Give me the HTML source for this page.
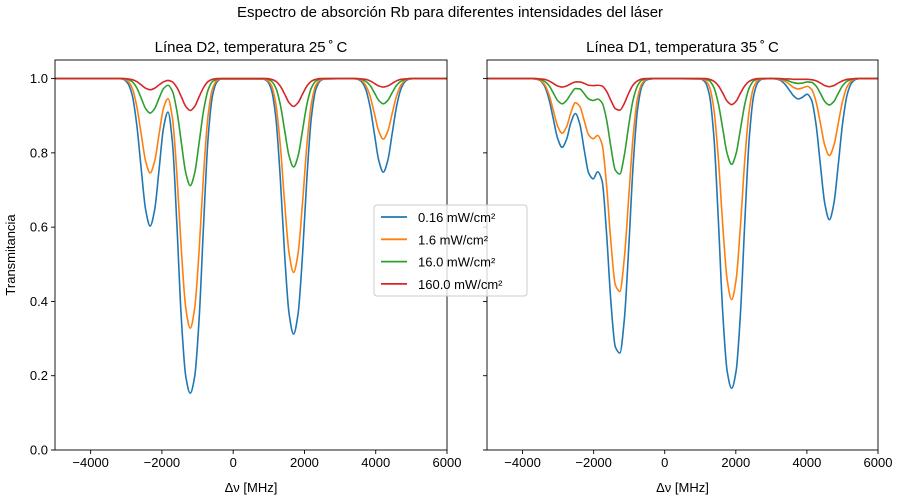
<!DOCTYPE html>
<html><head><meta charset="utf-8"><style>
body{margin:0;background:#fff;}
svg{display:block;font-family:"Liberation Sans","DejaVu Sans",sans-serif;}
</style></head><body>
<svg id="fig" width="900" height="500" viewBox="0 0 900 500">
<rect width="900" height="500" fill="#fff"/>
<text x="450" y="17" text-anchor="middle" font-size="15">Espectro de absorción Rb para diferentes intensidades del láser</text>
</svg>
<script>
const seriesLabels=["0.16 mW/cm²","1.6 mW/cm²","16.0 mW/cm²","160.0 mW/cm²"];
const colors=["#1f77b4","#ff7f0e","#2ca02c","#d62728"];
const xTicks=[-4000,-2000,0,2000,4000,6000];
const yTicks=[0.0,0.2,0.4,0.6,0.8,1.0];
const d2X=[-5000,
-3205,-3080,-2955,-2830,-2705,-2580,-2455,-2330,-2205,-2080,-1955,-1830,-1705,-1580,-1455,-1330,-1205,-1080,-955,-830,-705,-580,-455,-330,
820,945,1070,1195,1320,1445,1570,1695,1820,1945,2070,2195,2320,2445,2570,
3337,3462,3587,3712,3837,3962,4087,4212,4337,4462,4587,4712,4837,4962,5087,
6000];
const d2Blue=[1,
1.000,0.998,0.987,0.954,0.875,0.756,0.646,0.603,0.646,0.755,0.867,0.910,0.828,0.607,0.354,0.198,0.153,0.198,0.354,0.608,0.838,0.954,0.991,0.999,
0.999,0.994,0.971,0.896,0.735,0.524,0.366,0.312,0.366,0.524,0.735,0.896,0.971,0.994,0.999,
1,0.999,0.993,0.973,0.926,0.852,0.779,0.748,0.779,0.852,0.926,0.973,0.993,0.999,1,
1];
const d2Orange=[1,
1.000,0.999,0.993,0.973,0.925,0.850,0.777,0.746,0.777,0.850,0.920,0.946,0.894,0.743,0.539,0.382,0.328,0.382,0.539,0.744,0.900,0.973,0.995,0.999,
0.999,0.996,0.982,0.933,0.823,0.664,0.529,0.478,0.529,0.664,0.823,0.933,0.982,0.996,0.999,
1,0.999,0.996,0.983,0.954,0.906,0.858,0.837,0.858,0.906,0.954,0.983,0.996,0.999,1,
1];
const d2Green=[1,
1,1.000,0.998,0.991,0.975,0.947,0.919,0.907,0.919,0.947,0.973,0.982,0.966,0.913,0.828,0.746,0.712,0.746,0.828,0.914,0.969,0.992,0.998,1,
1,0.999,0.993,0.975,0.931,0.860,0.791,0.762,0.791,0.860,0.931,0.975,0.993,0.999,1,
1,1,0.998,0.993,0.982,0.962,0.941,0.932,0.941,0.962,0.982,0.993,0.998,1,1,
1];
const d2Red=[1,
1,1,0.999,0.997,0.992,0.983,0.974,0.970,0.974,0.983,0.991,0.995,0.991,0.976,0.951,0.925,0.914,0.925,0.951,0.976,0.992,0.998,1,1,
1,1,0.998,0.993,0.980,0.958,0.935,0.925,0.935,0.958,0.980,0.993,0.998,1,1,
1,1,0.999,0.998,0.994,0.987,0.980,0.977,0.980,0.987,0.994,0.998,0.999,1,1,
1];
const d1X=[-5000,
-3763,-3638,-3513,-3388,-3263,-3138,-3013,-2888,-2763,-2638,-2513,-2388,-2263,-2138,-2013,-1888,-1763,-1638,-1513,-1388,-1263,-1138,-1013,-888,-763,-638,-513,-388,-263,
1007,1132,1257,1382,1507,1632,1757,1882,2007,2132,2257,2382,2507,2632,2757,
3006,3131,3256,3381,3506,3631,3756,3881,4006,4131,4256,4381,4506,4631,4756,4881,5006,5131,5256,5381,5506,
6000];
const d1Blue=[1,
1.000,0.999,0.995,0.981,0.947,0.893,0.839,0.815,0.836,0.882,0.906,0.877,0.807,0.745,0.730,0.749,0.725,0.585,0.397,0.277,0.261,0.350,0.544,0.768,0.918,0.980,0.996,0.999,1,
0.999,0.991,0.956,0.845,0.622,0.370,0.212,0.166,0.212,0.370,0.622,0.845,0.956,0.991,0.999,
1.000,0.999,0.995,0.985,0.969,0.953,0.945,0.950,0.958,0.942,0.877,0.766,0.662,0.620,0.662,0.767,0.881,0.956,0.988,0.998,1,
1];
const d1Orange=[1,
1.000,0.999,0.996,0.985,0.959,0.916,0.872,0.853,0.870,0.909,0.935,0.925,0.886,0.848,0.838,0.847,0.823,0.715,0.558,0.444,0.427,0.515,0.680,0.846,0.948,0.987,0.998,1.000,1,
0.999,0.996,0.978,0.918,0.787,0.606,0.458,0.405,0.458,0.606,0.787,0.918,0.978,0.996,0.999,
1,0.999,0.997,0.993,0.985,0.976,0.972,0.975,0.979,0.971,0.938,0.879,0.819,0.793,0.819,0.879,0.940,0.978,0.994,0.999,1,
1];
const d1Green=[1,
1,1.000,0.998,0.993,0.982,0.962,0.941,0.932,0.941,0.959,0.973,0.972,0.959,0.945,0.941,0.945,0.935,0.890,0.815,0.753,0.743,0.793,0.874,0.943,0.981,0.996,0.999,1,1,
1,0.999,0.994,0.976,0.933,0.865,0.798,0.769,0.798,0.865,0.933,0.976,0.994,0.999,1,
1,1,0.999,0.997,0.993,0.989,0.987,0.988,0.991,0.990,0.980,0.960,0.938,0.929,0.938,0.960,0.981,0.993,0.998,1,1,
1];
const d1Red=[1,
1,1,0.999,0.998,0.994,0.987,0.980,0.977,0.980,0.986,0.991,0.991,0.987,0.982,0.981,0.982,0.980,0.966,0.941,0.919,0.915,0.933,0.961,0.983,0.994,0.999,1,1,1,
1,1,0.998,0.993,0.981,0.961,0.939,0.930,0.939,0.961,0.981,0.993,0.998,1,1,
1,1,1,0.999,0.999,0.998,0.998,0.998,0.998,0.997,0.994,0.988,0.981,0.978,0.981,0.988,0.994,0.998,0.999,1,1,
1];

const NS="http://www.w3.org/2000/svg";
const svg=document.getElementById('fig');
function el(tag,attrs,parent){const e=document.createElementNS(NS,tag);for(const k in attrs)e.setAttribute(k,attrs[k]);(parent||svg).appendChild(e);return e;}
const X0=-5000,X1=6000,Y0=0,Y1=1.05;
const T=60,B=450;
function sy(v){return B-(v-Y0)/(Y1-Y0)*(B-T);}
function monotone(xs,ys){
  const n=xs.length,d=[],m=[];
  for(let i=0;i<n-1;i++)d.push((ys[i+1]-ys[i])/(xs[i+1]-xs[i]));
  m[0]=d[0];m[n-1]=d[n-2];
  for(let i=1;i<n-1;i++){if(d[i-1]*d[i]<=0)m[i]=0;else{const w1=2*(xs[i+1]-xs[i])+(xs[i]-xs[i-1]),w2=(xs[i+1]-xs[i])+2*(xs[i]-xs[i-1]);m[i]=(w1+w2)/(w1/d[i-1]+w2/d[i]);}}
  return m;
}
function panel(L,R,title,xs,seriesArr,showY,name){
  const sx=v=>L+(v-X0)/(X1-X0)*(R-L);
  const g=el('g',{});
  
  
  const clip=el('clipPath',{id:'c'+name},g);el('rect',{x:L,y:T,width:R-L,height:B-T},clip);
  seriesArr.forEach((ys,si)=>{
    const m=monotone(xs,ys);let d='';
    for(let i=0;i<xs.length-1;i++){
      const h=xs[i+1]-xs[i];
      const p0=[sx(xs[i]),sy(ys[i])],p3=[sx(xs[i+1]),sy(ys[i+1])];
      const p1=[sx(xs[i]+h/3),sy(ys[i]+m[i]*h/3)],p2=[sx(xs[i+1]-h/3),sy(ys[i+1]-m[i+1]*h/3)];
      if(i===0)d+='M'+p0[0].toFixed(2)+','+p0[1].toFixed(2);
      d+='C'+p1.map(v=>v.toFixed(2))+' '+p2.map(v=>v.toFixed(2))+' '+p3.map(v=>v.toFixed(2));
    }
    const p=el('path',{d:d,fill:'none',stroke:colors[si],'stroke-width':1.6,'clip-path':'url(#c'+name+')'},g);
    
    
  });
  el('rect',{x:L,y:T,width:R-L,height:B-T,fill:'none',stroke:'#000','stroke-width':0.9},g);
  xTicks.forEach(t=>{const x=sx(t);el('line',{x1:x,x2:x,y1:B,y2:B+4,stroke:'#000','stroke-width':0.9},g);
    const tx=el('text',{x:x,y:B+17,'text-anchor':'middle','font-size':13},g);tx.textContent=(t<0?'\u2212'+(-t):t);
    
    });
  yTicks.forEach(t=>{const y=sy(t);el('line',{x1:L-4,x2:L,y1:y,y2:y,stroke:'#000','stroke-width':0.9},g);
    if(showY){const ty=el('text',{x:L-7,y:y+4.5,'text-anchor':'end','font-size':13},g);ty.textContent=t.toFixed(1);
    
    }});
  const xl=el('text',{x:(L+R)/2,y:492,'text-anchor':'middle','font-size':13},g);xl.textContent='Δν [MHz]';
  
  
  const tt=el('text',{x:(L+R)/2,y:52,'text-anchor':'middle','font-size':15},g);tt.textContent=title;
  
  
}
panel(55,447,'Línea D2, temperatura 25\u2009\u02da\u2009C',d2X,[d2Blue,d2Orange,d2Green,d2Red],true,'d2');
panel(487,878,'Línea D1, temperatura 35\u2009\u02da\u2009C',d1X,[d1Blue,d1Orange,d1Green,d1Red],false,'d1');
const yl=el('text',{x:0,y:0,'text-anchor':'middle','font-size':13,transform:'translate(15,255) rotate(-90)'});
yl.textContent='Transmitancia';


const lg=el('g',{});


el('rect',{x:374,y:205,width:153,height:91,rx:3,fill:'#fff','fill-opacity':0.8,stroke:'#ccc','stroke-width':1},lg);
seriesLabels.forEach((s,i)=>{const y=217+i*22.3;
  const ln=el('line',{x1:381,x2:407,y1:y,y2:y,stroke:colors[i],'stroke-width':1.8},lg);
  
  
  const t=el('text',{x:418,y:y+5,'font-size':13},lg);t.textContent=s;
  
  });
</script>
</body></html>
